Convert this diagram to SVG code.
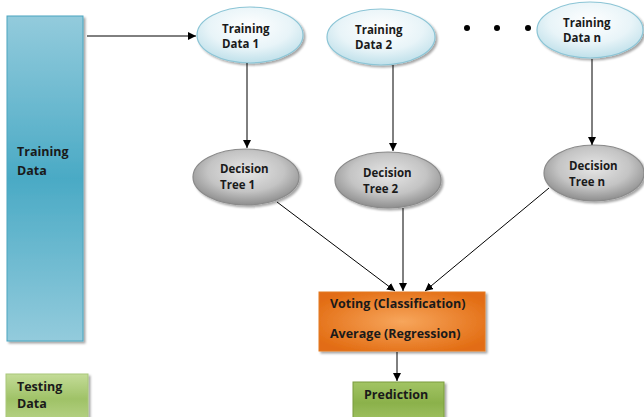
<svg xmlns="http://www.w3.org/2000/svg" width="644" height="417" viewBox="0 0 644 417">
<defs>
<linearGradient id="gBlue" x1="0" y1="0" x2="0" y2="1">
<stop offset="0" stop-color="#93cbdc"/><stop offset="0.5" stop-color="#4aaac5"/><stop offset="1" stop-color="#93cbdc"/>
</linearGradient>
<radialGradient id="gData" cx="0.5" cy="0.35" r="0.65">
<stop offset="0" stop-color="#ffffff"/><stop offset="0.6" stop-color="#e8f4f8"/><stop offset="1" stop-color="#bfe0ea"/>
</radialGradient>
<radialGradient id="gTree" cx="0.5" cy="0.4" r="0.6">
<stop offset="0" stop-color="#e6e6e6"/><stop offset="0.6" stop-color="#c4c4c4"/><stop offset="1" stop-color="#8e8e8e"/>
</radialGradient>
<radialGradient id="gOrange" cx="0.5" cy="0.5" r="0.6">
<stop offset="0" stop-color="#f7a65c"/><stop offset="1" stop-color="#e26c12"/>
</radialGradient>
<linearGradient id="gGreen" x1="0" y1="0" x2="0" y2="1">
<stop offset="0" stop-color="#a2c464"/><stop offset="0.5" stop-color="#8bb14b"/><stop offset="1" stop-color="#a2c464"/>
</linearGradient>
<linearGradient id="gGreen2" x1="0" y1="0" x2="0" y2="1">
<stop offset="0" stop-color="#c4dc98"/><stop offset="0.5" stop-color="#9fc267"/><stop offset="1" stop-color="#b9d488"/>
</linearGradient>
<marker id="ah" viewBox="0 0 10 10" refX="10" refY="5" markerWidth="8" markerHeight="8" markerUnits="userSpaceOnUse" orient="auto">
<path d="M0,0 L10,5 L0,10 z" fill="#000"/>
</marker>
<filter id="sh" x="-10%" y="-10%" width="130%" height="130%">
<feDropShadow dx="2" dy="2" stdDeviation="1" flood-color="#000" flood-opacity="0.35"/>
</filter>
</defs>
<style>
text{font-family:"Open Sans","Liberation Sans",sans-serif;font-weight:bold;font-size:11.5px;fill:#1a1a1a}
.big{font-size:12.5px}
.data{fill:url(#gData);stroke:#8cc5d6;stroke-width:1.2}
.tree{fill:url(#gTree);stroke:#8a8a8a;stroke-width:1.2}
.con line{stroke:#000;stroke-width:1;marker-end:url(#ah)}
</style>

<g id="training-data">
<rect x="7" y="16" width="76" height="325" fill="url(#gBlue)" stroke="#4aa5bf" stroke-width="1" filter="url(#sh)"/>
<text x="17" y="156" class="big">Training</text>
<text x="17" y="175" class="big">Data</text>
</g>

<g id="testing-data">
<rect x="6" y="374" width="82" height="50" fill="url(#gGreen2)" stroke="#a9c77a" stroke-width="1" filter="url(#sh)"/>
<text x="17" y="391" class="big">Testing</text>
<text x="17" y="408" class="big">Data</text>
</g>

<g id="td1">
<ellipse cx="250" cy="35" rx="53" ry="28" class="data" filter="url(#sh)"/>
<text x="222" y="33">Training</text>
<text x="222" y="48">Data 1</text>
</g>
<g id="td2">
<ellipse cx="381" cy="37" rx="54" ry="28" class="data" filter="url(#sh)"/>
<text x="355" y="34">Training</text>
<text x="355" y="49">Data 2</text>
</g>
<g id="tdn">
<ellipse cx="590" cy="30" rx="53" ry="28" class="data" filter="url(#sh)"/>
<text x="563" y="27">Training</text>
<text x="563" y="42">Data n</text>
</g>

<g id="dots" fill="#000">
<circle cx="467" cy="28" r="3"/>
<circle cx="497" cy="28" r="3"/>
<circle cx="528" cy="28" r="3"/>
</g>

<g id="dt1">
<ellipse cx="246" cy="177" rx="53" ry="28" class="tree" filter="url(#sh)"/>
<text x="220" y="173">Decision</text>
<text x="220" y="189">Tree 1</text>
</g>
<g id="dt2">
<ellipse cx="388" cy="180" rx="53" ry="28" class="tree" filter="url(#sh)"/>
<text x="363" y="177">Decision</text>
<text x="363" y="193">Tree 2</text>
</g>
<g id="dtn">
<ellipse cx="594" cy="173" rx="50" ry="28" class="tree" filter="url(#sh)"/>
<text x="569" y="170">Decision</text>
<text x="569" y="186">Tree n</text>
</g>

<g id="aggregate">
<rect x="319" y="292" width="166" height="59" fill="url(#gOrange)" stroke="#e37a25" stroke-width="1" filter="url(#sh)"/>
<text x="330" y="308" class="big">Voting (Classification)</text>
<text x="330" y="338" class="big">Average (Regression)</text>
</g>

<g id="prediction">
<rect x="353" y="382" width="91" height="42" fill="url(#gGreen)" stroke="#7a9c3f" stroke-width="1" filter="url(#sh)"/>
<text x="364" y="399" class="big">Prediction</text>
</g>

<g id="connectors" class="con">
<line x1="87" y1="36" x2="196" y2="36"/>
<line x1="247" y1="63" x2="247" y2="148"/>
<line x1="393" y1="65" x2="393" y2="151"/>
<line x1="592" y1="59" x2="592" y2="145"/>
<line x1="277" y1="202" x2="395" y2="291"/>
<line x1="403" y1="208" x2="403" y2="291"/>
<line x1="549" y1="188" x2="425" y2="291"/>
<line x1="397" y1="352" x2="397" y2="381"/>
</g>
</svg>
